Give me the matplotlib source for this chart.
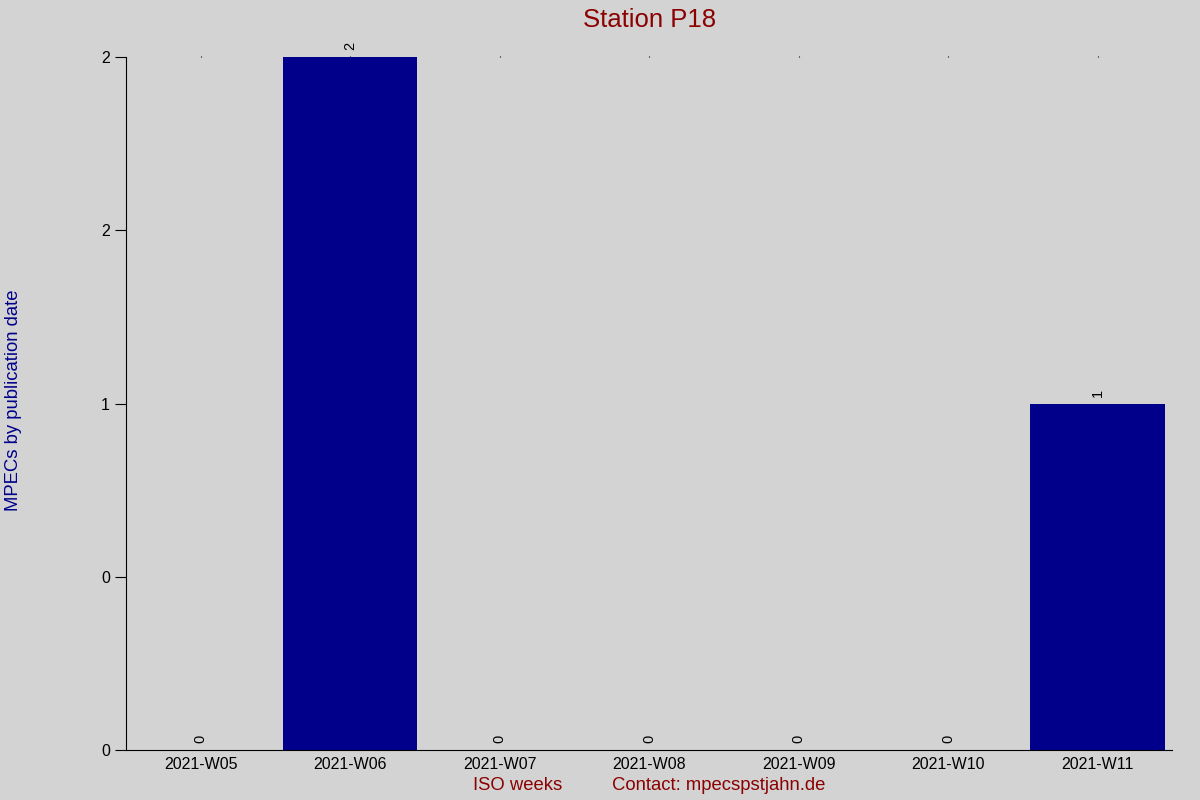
import matplotlib
matplotlib.use("Agg")
import matplotlib.pyplot as plt
from matplotlib.ticker import FormatStrFormatter

plt.rcParams['font.family'] = ['Liberation Sans', 'DejaVu Sans']

# Data
weeks = ["2021-W05", "2021-W06", "2021-W07", "2021-W08", "2021-W09", "2021-W10", "2021-W11"]
counts = [0, 2, 0, 0, 0, 0, 1]
y_ticks = [0, 0.5, 1, 1.5, 2]

bg = '#d3d3d3'
bar_color = '#00008b'
red = '#8b0000'

fig = plt.figure(figsize=(12, 8), dpi=100, facecolor=bg)
ax = fig.add_axes([0.105, 0.0625, 0.872, 0.866], facecolor=bg)

x = list(range(len(weeks)))
bars = ax.bar(x, counts, width=0.9, color=bar_color)

# value labels on top of each bar
for xi, c in zip(x, counts):
    ax.text(xi, c + 0.02, str(c), rotation=90, ha='center', va='bottom', fontsize=10.5)

ax.set_xlim(-0.5, 6.5)
ax.set_ylim(0, 2)
ax.set_xticks(x)
ax.set_xticklabels(weeks, fontsize=11.5)
ax.set_yticks(y_ticks)
ax.yaxis.set_major_formatter(FormatStrFormatter('%.0f'))
ax.tick_params(axis='y', labelsize=11.5, length=8, direction='out')

# tiny marks along the top at each category
ax.tick_params(axis='x', which='both', top=True, bottom=False, length=1, width=0.8, pad=4)

ax.spines['top'].set_visible(False)
ax.spines['right'].set_visible(False)

ax.set_title("Station P18", color=red, fontsize=18.5, pad=22)
fig.text(0.011, 0.5, "MPECs by publication date", rotation=90, color=bar_color,
         fontsize=13.3, ha='center', va='center')
fig.text(0.431, 0.018, "ISO weeks", color=red, fontsize=13.3, ha='center', va='center')
fig.text(0.599, 0.018, "Contact: mpecspstjahn.de", color=red, fontsize=13.3, ha='center', va='center')

plt.savefig('out.png', dpi=100, facecolor=bg)
